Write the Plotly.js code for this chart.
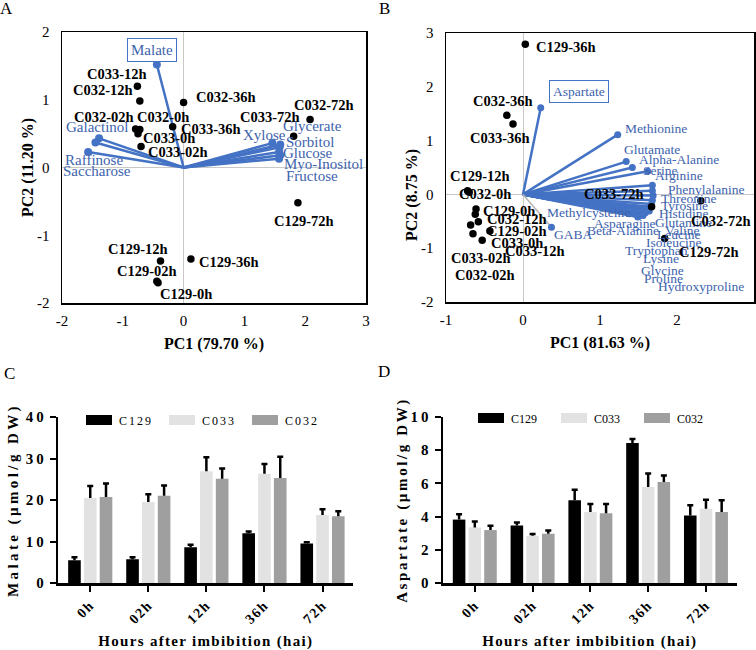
<!DOCTYPE html>
<html><head><meta charset="utf-8">
<script src="https://cdn.plot.ly/plotly-3.0.1.min.js"></script>
<style>
html,body{margin:0;padding:0;background:#fff}
#chart{width:756px;height:650px}
.x3title,.x4title{letter-spacing:1.3px}
.y3title{letter-spacing:3.4px}
.y4title{letter-spacing:2.6px}
.x3tick text,.x4tick text{letter-spacing:1.5px}
.y3tick text,.y4tick text{letter-spacing:3px}
text.legendtext{letter-spacing:2px}
</style></head><body><div id="chart"></div><script>
// ---------- Panel A: PCA (sugars / organic acids) ----------
const sampleNamesA = ['C033-12h','C032-12h','C032-36h','C032-02h','C032-0h','C033-0h','C033-02h','C033-36h','C033-72h','C032-72h','C129-72h','C129-12h','C129-36h','C129-02h','C129-0h'];
const samplePC1A = [-0.76,-0.72,0.00,-0.79,-0.72,-0.75,-0.70,-0.18,1.81,2.08,1.88,-0.38,0.12,-0.44,-0.42];
const samplePC2A = [1.20,0.98,0.96,0.57,0.56,0.50,0.31,0.60,0.46,0.71,-0.52,-1.38,-1.35,-1.68,-1.70];
const loadingNamesA = ['Malate','Galactinol','Saccharose','Raffinose','Xylose','Glycerate','Sorbitol','Glucose','Myo-Inositol','Fructose'];
const loadingPC1A = [-0.44,-1.39,-1.45,-1.57,1.46,1.59,1.58,1.57,1.59,1.57];
const loadingPC2A = [1.52,0.43,0.37,0.23,0.36,0.34,0.30,0.23,0.18,0.13];
const xTicksA = [-2,-1,0,1,2,3];
const yTicksA = [-2,-1,0,1,2];

// ---------- Panel B: PCA (amino acids) ----------
const sampleNamesB = ['C129-36h','C032-36h','C033-36h','C129-12h','C032-0h','C129-0h','C032-12h','C129-02h','C033-0h','C033-12h','C033-02h','C032-02h','C033-72h','C032-72h','C129-72h'];
const samplePC1B = [0.03,-0.21,-0.13,-0.72,-0.70,-0.61,-0.62,-0.43,-0.58,-0.53,-0.68,-0.65,1.67,2.31,1.84];
const samplePC2B = [2.79,1.47,1.31,0.07,0.04,-0.27,-0.37,-0.68,-0.51,-0.85,-0.57,-0.73,-0.23,-0.12,-0.82];
const loadingNamesB = ['Aspartate','Methionine','Glutamate','Alpha-Alanine','Serine','Arginine','Phenylalanine','Threonine','Tyrosine','Histidine','Glutamine','Valine','Leucine','Isoleucine','Tryptophan','Lysine','Glycine','Proline','Hydroxyproline','Asparagine','Beta-Alanine','Methylcysteine','GABA'];
const loadingPC1B = [0.23,1.23,1.34,1.42,1.62,1.68,1.68,1.69,1.68,1.67,1.66,1.61,1.59,1.64,1.59,1.55,1.53,1.51,1.49,1.56,1.43,1.38,0.37];
const loadingPC2B = [1.61,1.11,0.61,0.50,0.43,0.17,0.07,-0.02,-0.11,-0.18,-0.23,-0.26,-0.28,-0.31,-0.34,-0.37,-0.38,-0.40,-0.42,-0.39,-0.35,-0.36,-0.61];
const xTicksB = [-1,0,1,2,3];
const yTicksB = [-2,-1,0,1,2,3];

// ---------- Panels C / D: bars ----------
const hours = ['0h','02h','12h','36h','72h'];
const cultivars = ['C129','C033','C032'];
const malateC129 = [5.5,5.7,8.6,12.0,9.5];
const malateC129Err = [0.7,0.5,0.6,0.4,0.3];
const malateC033 = [20.5,19.5,26.9,26.3,16.4];
const malateC033Err = [2.9,1.9,3.4,2.4,1.4];
const malateC032 = [20.7,21.0,25.1,25.3,16.1];
const malateC032Err = [3.3,2.5,2.5,5.1,1.2];
const aspC129 = [3.82,3.47,4.98,8.43,4.06];
const aspC129Err = [0.32,0.18,0.64,0.24,0.62];
const aspC033 = [3.35,2.85,4.28,5.78,4.48];
const aspC033Err = [0.36,0.10,0.48,0.81,0.54];
const aspC032 = [3.19,2.97,4.20,6.08,4.28];
const aspC032Err = [0.26,0.20,0.56,0.39,0.70];

// ---------- styling / label placement (pixels) ----------
const SERIF = '"Liberation Serif", "Times New Roman", serif';
const BLUE = '#4472C4';
const LBLUE = '#3d63ad';
const barColors = ['#000000','#e2e2e2','#9f9f9f'];
const sampleShiftA = [[-20,-12],[-37,-11],[42,-5],[-32,-12],[23,-13],[31,4],[37,6],[38,2],[-24,-19],[14,-14],[6,18],[-23,-12],[38,3],[-10,-10],[28,11]];
const loadShiftA = [[-5,-15],[-2,-11],[2,29],[6,8],[-8,-8],[32,-18],[30,-5],[28,1],[43,9],[33,17]];
const sampleShiftB = [[41,3],[-4,-14],[-13,14],[12,-15],[16,2],[33,2],[42,5],[27,0],[39,21],[53,11],[10,33],[12,41],[-38,-13],[20,20],[44,13]];
const loadShiftB = [[38,-16],[38,-6],[26,-12],[47,-8],[13,-1],[27,-10],[54,-1],[35,3],[32,5],[32,9],[33,16],[36,22],[33,25],[24,31],[11,38],[19,44],[22,56],[24,63],[63,69],[-19,8],[-10,17],[-41,-1],[22,7]];

const W = 756, H = 650;
const fx = p => p / W, fy = p => 1 - p / H;

function vectorLines(xs, ys, xa, ya, skip) {
  const lx = [], ly = [];
  xs.forEach((v, i) => { if (skip && skip.includes(i)) return; lx.push(0, v, null); ly.push(0, ys[i], null); });
  return {x: lx, y: ly, xaxis: xa, yaxis: ya, mode: 'lines', type: 'scatter', line: {color: BLUE, width: 2.5}, showlegend: false, hoverinfo: 'skip'};
}
const gabaIdx = loadingNamesB.indexOf('GABA');

const data = [
  vectorLines(loadingPC1A, loadingPC2A, 'x', 'y'),
  {x: loadingPC1A, y: loadingPC2A, xaxis: 'x', yaxis: 'y', mode: 'markers', type: 'scatter', marker: {color: BLUE, size: 8}, showlegend: false},
  {x: samplePC1A, y: samplePC2A, xaxis: 'x', yaxis: 'y', mode: 'markers', type: 'scatter', marker: {color: '#000', size: 7.5}, showlegend: false},
  vectorLines(loadingPC1B, loadingPC2B, 'x2', 'y2', [gabaIdx]),
  {x: [0, loadingPC1B[gabaIdx]], y: [0, loadingPC2B[gabaIdx]], xaxis: 'x2', yaxis: 'y2', mode: 'lines', type: 'scatter', line: {color: '#b4b4b4', width: 1.5}, showlegend: false},
  {x: loadingPC1B, y: loadingPC2B, xaxis: 'x2', yaxis: 'y2', mode: 'markers', type: 'scatter', marker: {color: BLUE, size: 7}, showlegend: false},
  {x: samplePC1B, y: samplePC2B, xaxis: 'x2', yaxis: 'y2', mode: 'markers', type: 'scatter', marker: {color: '#000', size: 7.5}, showlegend: false}
];

function bars(vals, errs, i, xa, ya, leg) {
  return {type: 'bar', x: hours, y: vals, name: cultivars[i], xaxis: xa, yaxis: ya, legend: leg,
    marker: {color: barColors[i], line: {width: 0}},
    error_y: {type: 'data', symmetric: false, array: errs, arrayminus: errs.map(() => 0), color: '#000', thickness: 2.5, width: 3}};
}
data.push(bars(malateC129, malateC129Err, 0, 'x3', 'y3', 'legend'));
data.push(bars(malateC033, malateC033Err, 1, 'x3', 'y3', 'legend'));
data.push(bars(malateC032, malateC032Err, 2, 'x3', 'y3', 'legend'));
data.push(bars(aspC129, aspC129Err, 0, 'x4', 'y4', 'legend2'));
data.push(bars(aspC033, aspC033Err, 1, 'x4', 'y4', 'legend2'));
data.push(bars(aspC032, aspC032Err, 2, 'x4', 'y4', 'legend2'));

const tickFont = {family: SERIF, size: 15, color: '#000'};
const boldTick = {family: SERIF, size: 15, color: '#000', weight: 'bold'};
const pcTitleFont = {family: SERIF, size: 16, color: '#000', weight: 'bold'};

function pcaAxis(dom, range, ticks, anchor, title, standoff, lblStand) {
  const ax = {domain: dom, range: range, anchor: anchor, tickmode: 'array', tickvals: ticks, ticktext: ticks.map(String),
    showline: true, mirror: true, linecolor: '#000', linewidth: 1.5, showgrid: false, zeroline: true,
    zerolinecolor: '#c8c8c8', zerolinewidth: 1, ticks: '', tickfont: tickFont, ticklabelstandoff: lblStand, fixedrange: true};
  if (title) ax.title = {text: title, font: pcTitleFont, standoff: standoff};
  return ax;
}
function barX(dom, anchor) {
  return {domain: dom, anchor: anchor, type: 'category', range: [-0.55, 4.53], showline: true, linecolor: '#000', linewidth: 2.5,
    ticks: 'outside', ticklen: 6, tickwidth: 2, tickcolor: '#000', tickangle: -45, showgrid: false, zeroline: false,
    tickfont: {family: SERIF, size: 14, color: '#000', weight: 'bold'},
    title: {text: 'Hours after imbibition (hai)', font: {family: SERIF, size: 15, color: '#000', weight: 'bold'}, standoff: 21}};
}
function barY(dom, anchor, range, dtick, title, standoff) {
  return {domain: dom, anchor: anchor, range: range, dtick: dtick, showline: true, linecolor: '#000', linewidth: 2.5,
    ticks: 'outside', ticklen: 6, tickwidth: 2, tickcolor: '#000', showgrid: false, zeroline: false, tickfont: boldTick,
    title: {text: title, font: {family: SERIF, size: 15, color: '#000', weight: 'bold'}, standoff: standoff}};
}

const annotations = [];
function labelAnns(names, xs, ys, shifts, xr, yr, font, boxIdx) {
  names.forEach((n, i) => {
    const a = {x: xs[i], y: ys[i], xref: xr, yref: yr, text: n, showarrow: false, xanchor: 'center', yanchor: 'middle',
      xshift: shifts[i][0], yshift: -shifts[i][1], font: font};
    if (i === boxIdx) { a.bordercolor = BLUE; a.borderwidth = 1; a.borderpad = 3; a.bgcolor = '#fff'; }
    annotations.push(a);
  });
}
const sampleFont = {family: SERIF, size: 14.5, color: '#000', weight: 'bold'};
labelAnns(loadingNamesA, loadingPC1A, loadingPC2A, loadShiftA, 'x', 'y', {family: SERIF, size: 15, color: LBLUE}, 0);
labelAnns(sampleNamesA, samplePC1A, samplePC2A, sampleShiftA, 'x', 'y', sampleFont, -1);
labelAnns(loadingNamesB, loadingPC1B, loadingPC2B, loadShiftB, 'x2', 'y2', {family: SERIF, size: 13.5, color: LBLUE}, 0);
labelAnns(sampleNamesB, samplePC1B, samplePC2B, sampleShiftB, 'x2', 'y2', sampleFont, -1);
[['A', 6, 9], ['B', 384, 9], ['C', 9, 373], ['D', 384, 371]].forEach(p => annotations.push({
  text: p[0], x: fx(p[1]), y: fy(p[2]), xref: 'paper', yref: 'paper', showarrow: false, xanchor: 'center', yanchor: 'middle',
  font: {family: SERIF, size: 17, color: '#000'}}));
// PCA y-axis titles (placed close to the tick labels, as in the reference)
[['PC2 (11.20 %)', 28, 168], ['PC2 (8.75 %)', 412, 195]].forEach(p => annotations.push({
  text: p[0], x: fx(p[1]), y: fy(p[2]), xref: 'paper', yref: 'paper', showarrow: false, textangle: -90,
  xanchor: 'center', yanchor: 'middle', font: pcTitleFont}));

const legendBase = {orientation: 'h', xanchor: 'left', yanchor: 'middle', bgcolor: 'rgba(0,0,0,0)', borderwidth: 0,
  entrywidth: 38, entrywidthmode: 'pixels', font: {family: SERIF, size: 12, color: '#000'}, traceorder: 'normal'};

const layout = {
  width: W, height: H, margin: {l: 0, r: 0, t: 0, b: 0}, paper_bgcolor: '#fff', plot_bgcolor: '#fff',
  barmode: 'group', bargap: 0.185, bargroupgap: 0.2, showlegend: true,
  xaxis: pcaAxis([fx(62), fx(366)], [-2, 3], xTicksA, 'y', 'PC1 (79.70 %)', 10, 3),
  yaxis: pcaAxis([fy(303), fy(32)], [-2, 2], yTicksA, 'x', null, 0, 8),
  xaxis2: pcaAxis([fx(446), fx(754)], [-1, 3], xTicksB, 'y2', 'PC1 (81.63 %)', 10, 3),
  yaxis2: pcaAxis([fy(302), fy(33)], [-2, 3], yTicksB, 'x2', null, 0, 8),
  xaxis3: barX([fx(58.3), fx(353.3)], 'y3'),
  yaxis3: barY([fy(583), fy(417)], 'x3', [0, 40], 10, 'Malate (µmol/g DW)', 4),
  xaxis4: barX([fx(443), fx(736.6)], 'y4'),
  yaxis4: barY([fy(583), fy(417)], 'x4', [0, 10], 2, 'Aspartate (µmol/g DW)', 0),
  legend: Object.assign({}, legendBase, {x: fx(79), y: fy(420)}),
  legend2: Object.assign({}, legendBase, {x: fx(471), y: fy(418)}),
  annotations: annotations
};

Plotly.newPlot('chart', data, layout, {staticPlot: true, displayModeBar: false}).then(gd => {
  gd.querySelectorAll('.legendpoints path').forEach(p => p.setAttribute('d', 'M13,5H-13V-5H13Z'));
  gd.querySelectorAll('text.legendtext').forEach(t => { t.style.letterSpacing = '2px'; t.setAttribute('letter-spacing', '2px'); });
  gd.querySelectorAll('.errorbar path').forEach(p => {
    const d = p.getAttribute('d') || '';
    p.setAttribute('d', d.replace(/m-[\d.]+,0h[\d.]+$/, ''));
  });
});
</script></body></html>
